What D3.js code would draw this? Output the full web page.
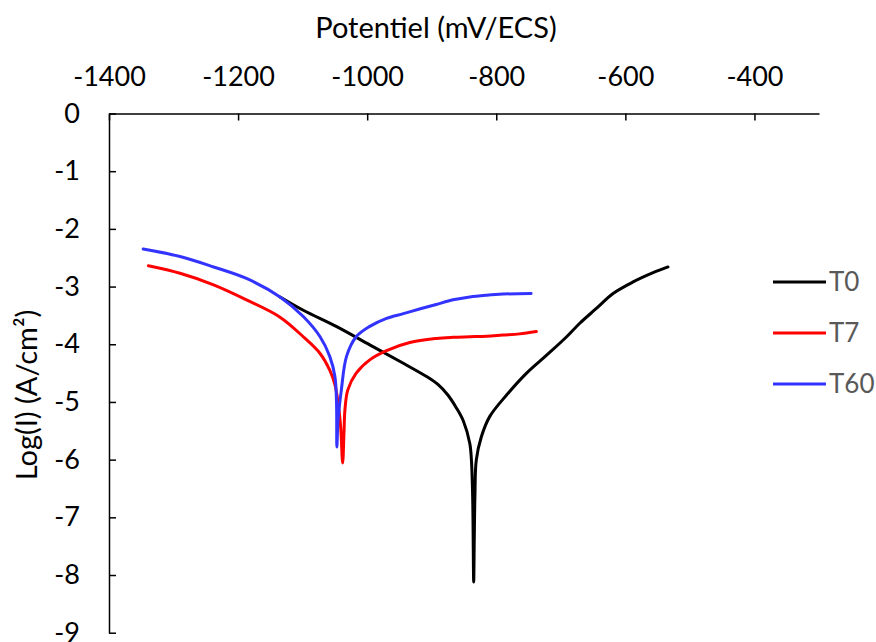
<!DOCTYPE html>
<html><head><meta charset="utf-8">
<script src="https://cdn.jsdelivr.net/npm/d3@7"></script>
<style>body{margin:0;background:#fff}</style>
</head><body>
<svg id="c" width="876" height="642"></svg>
<script>
const xTicks = [-1400, -1200, -1000, -800, -600, -400];
const yTicks = [0, -1, -2, -3, -4, -5, -6, -7, -8, -9];
const seriesNames = ["T0", "T7", "T60"];
const seriesColors = ["#000000", "#ff0000", "#3333ff"];

const t0Potential = [-1135, -1099, -1048, -996, -944, -908, -890, -875, -862, -851, -841, -838.5, -836.5, -835, -834, -833, -831, -823, -810, -784, -753, -722, -691, -671, -645, -619, -588, -557, -534];
const t0LogI =      [-3.18, -3.41, -3.69, -4.01, -4.33, -4.56, -4.70, -4.88, -5.10, -5.33, -5.72, -6.01, -6.7, -8.12, -7.3, -6.6, -6.01, -5.60, -5.25, -4.88, -4.50, -4.19, -3.87, -3.64, -3.38, -3.12, -2.92, -2.76, -2.66];

const t7Potential = [-1339, -1290, -1238, -1187, -1135, -1099, -1073, -1058, -1050, -1045, -1041, -1038, -1036, -1034.5, -1030, -1017, -996, -970, -934, -893, -867, -841, -815, -790, -764, -738];
const t7LogI =      [-2.64, -2.77, -2.97, -3.23, -3.53, -3.87, -4.16, -4.45, -4.70, -5.02, -5.45, -6.06, -5.55, -5.14, -4.79, -4.50, -4.27, -4.11, -3.97, -3.90, -3.88, -3.87, -3.86, -3.84, -3.82, -3.78];

const t60Potential = [-1347, -1290, -1238, -1187, -1135, -1099, -1073, -1058, -1050, -1047.5, -1047, -1045, -1040, -1032, -1017, -996, -970, -944, -919, -893, -867, -841, -815, -790, -746];
const t60LogI =      [-2.35, -2.48, -2.66, -2.86, -3.18, -3.52, -3.87, -4.21, -4.56, -5.02, -5.78, -5.3, -4.79, -4.21, -3.87, -3.69, -3.55, -3.47, -3.39, -3.31, -3.23, -3.18, -3.15, -3.13, -3.12];

const series = [
  {name: seriesNames[0], color: seriesColors[0], xs: t0Potential, ys: t0LogI},
  {name: seriesNames[1], color: seriesColors[1], xs: t7Potential, ys: t7LogI},
  {name: seriesNames[2], color: seriesColors[2], xs: t60Potential, ys: t60LogI}
];

const svg = d3.select("#c");
const x = d3.scaleLinear().domain([-1400, -300]).range([109, 819]);
const y = d3.scaleLinear().domain([0, -9]).range([113.5, 632.7]);
const font = "Lato, 'Open Sans', sans-serif";

// x axis (top)
const xAxis = d3.axisTop(x).tickValues(xTicks).tickSizeInner(-7).tickSizeOuter(0).tickPadding(0);
const gx = svg.append("g").attr("transform", `translate(0,${y(0)})`).call(xAxis);
gx.select(".domain").attr("stroke", "#000").attr("stroke-width", 1.5);
gx.selectAll(".tick line").attr("stroke", "#000").attr("stroke-width", 1.5);
gx.selectAll(".tick text").attr("y", -28).attr("font-family", font).attr("font-size", 27).attr("fill", "#000")
  .text(d => d < 0 ? "-" + Math.abs(d) : d);

// y axis
const yAxis = d3.axisLeft(y).tickValues(yTicks).tickSizeInner(-7).tickSizeOuter(0).tickPadding(0);
const gy = svg.append("g").attr("transform", `translate(${x(-1400)},0)`).call(yAxis);
gy.select(".domain").attr("stroke", "#000").attr("stroke-width", 1.5);
gy.selectAll(".tick line").attr("stroke", "#000").attr("stroke-width", 1.5);
gy.selectAll(".tick text").attr("x", -29).attr("font-family", font).attr("font-size", 27).attr("fill", "#000")
  .text(d => d < 0 ? "-" + Math.abs(d) : d);

// lines
const line = d3.line().x(d => x(d[0])).y(d => y(d[1])).curve(d3.curveCatmullRom.alpha(0.5));
series.forEach(s => {
  const pts = s.xs.map((v, i) => [v, s.ys[i]]);
  svg.append("path").datum(pts).attr("d", line).attr("fill", "none")
    .attr("stroke", s.color).attr("stroke-width", 3).attr("stroke-linejoin", "round").attr("stroke-linecap", "round");
});

// titles
svg.append("text").attr("x", 436).attr("y", 38).attr("text-anchor", "middle")
  .attr("font-family", font).attr("font-size", 29).attr("fill", "#000").text("Potentiel (mV/ECS)");
svg.append("text").attr("transform", "translate(27,395) rotate(-90)").attr("text-anchor", "middle").attr("dy", "0.35em")
  .attr("font-family", font).attr("font-size", 29).attr("fill", "#000").text("Log(I) (A/cm²)");

// legend
const legY = [282, 333, 384];
series.forEach((s, i) => {
  svg.append("line").attr("x1", 773).attr("x2", 826).attr("y1", legY[i]).attr("y2", legY[i])
    .attr("stroke", s.color).attr("stroke-width", 3);
  svg.append("text").attr("x", 829).attr("y", legY[i]).attr("dy", "0.35em")
    .attr("font-family", font).attr("font-size", 26).attr("fill", "#595959").text(s.name);
});
</script>
</body></html>
